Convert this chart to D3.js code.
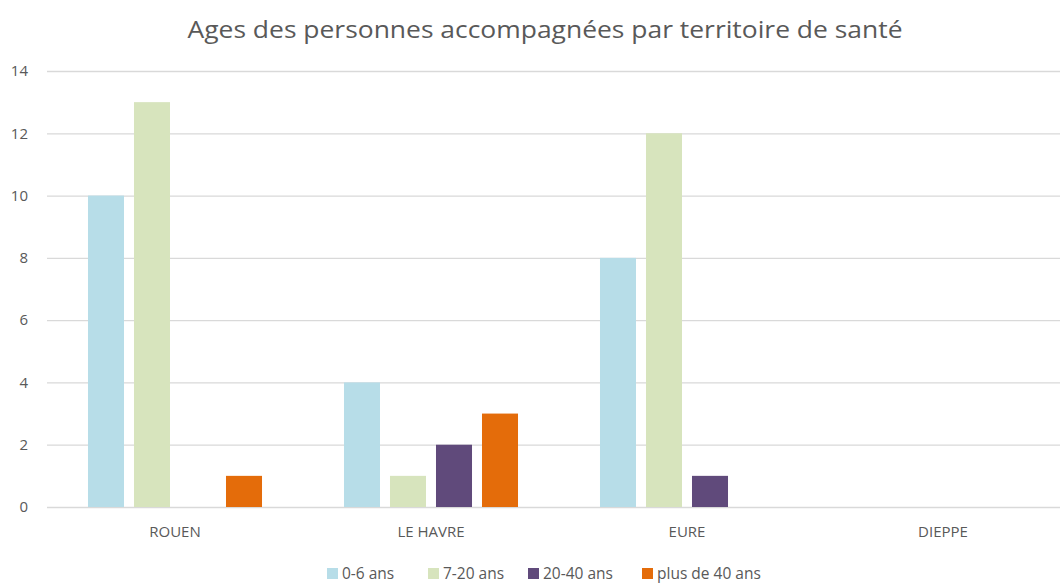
<!DOCTYPE html>
<html><head><meta charset="utf-8">
<script src="https://cdn.jsdelivr.net/npm/d3@7"></script>
<style>body{margin:0;background:#fff}svg{display:block}</style>
</head><body>
<script>
const categories = ["ROUEN", "LE HAVRE", "EURE", "DIEPPE"];
const seriesNames = ["0-6 ans", "7-20 ans", "20-40 ans", "plus de 40 ans"];
const values_0_6 = [10, 4, 8, 0];
const values_7_20 = [13, 1, 12, 0];
const values_20_40 = [0, 2, 1, 0];
const values_40plus = [1, 3, 0, 0];
const yTicks = [0, 2, 4, 6, 8, 10, 12, 14];
const colors = ["#b7dde8", "#d7e4bd", "#604a7b", "#e46c0a"];
const title = "Ages des personnes accompagnées par territoire de santé";

(function(){
const seriesValues = [values_0_6, values_7_20, values_20_40, values_40plus];
const W = 1060, H = 583;
const svg = d3.select("body").append("svg").attr("width", W).attr("height", H);
const font = "Open Sans, sans-serif";
const textColor = "#595959";

const pLeft = 47, pRight = 1071, pTop = 71, pBottom = 507;
const x0 = d3.scaleBand().domain(categories).range([pLeft, pRight]).padding(0);
const x1 = d3.scaleBand().domain(seriesNames).range([0, x0.bandwidth()]).paddingInner(0.217).paddingOuter(0.891);
const y = d3.scaleLinear().domain([0, 14]).range([pBottom, pTop]);

const yAxis = d3.axisLeft(y).tickValues(yTicks).tickSize(-(pRight - pLeft)).tickPadding(19);
const gy = svg.append("g").attr("transform", `translate(${pLeft},0)`).call(yAxis);
gy.select(".domain").remove();
gy.selectAll(".tick line").attr("stroke", "#d9d9d9").attr("stroke-width", 1.3);
gy.selectAll(".tick text").attr("fill", textColor).attr("font-family", font).attr("font-size", 15);

const groups = svg.append("g").selectAll("g").data(categories).join("g")
  .attr("transform", d => `translate(${x0(d)},0)`);
groups.selectAll("rect").data((c, i) => seriesNames.map((s, j) => ({s, j, v: seriesValues[j][i]})).filter(d => d.v > 0))
  .join("rect")
  .attr("x", d => x1(d.s)).attr("width", x1.bandwidth())
  .attr("y", d => y(d.v)).attr("height", d => y(0) - y(d.v))
  .attr("fill", d => colors[d.j]);

const xAxis = d3.axisBottom(x0).tickSize(0).tickPadding(19);
const gx = svg.append("g").attr("transform", `translate(0,${pBottom})`).call(xAxis);
gx.select(".domain").remove();
gx.selectAll(".tick text").attr("fill", textColor).attr("font-family", font).attr("font-size", 15);

svg.append("text").attr("x", 545).attr("y", 38).attr("text-anchor", "middle")
  .attr("font-family", font).attr("font-size", 24).attr("fill", textColor)
  .attr("textLength", 715).attr("lengthAdjust", "spacingAndGlyphs").text(title);

const legendX = [327, 428, 528, 642];
const lg = svg.append("g").selectAll("g").data(seriesNames).join("g")
  .attr("transform", (d, i) => `translate(${legendX[i]},568)`);
lg.append("rect").attr("width", 11).attr("height", 11).attr("fill", (d, i) => colors[i]);
lg.append("text").attr("x", 15).attr("y", 11).attr("font-family", font).attr("font-size", 15.5)
  .attr("fill", textColor).text(d => d);
})();
</script>
</body></html>
